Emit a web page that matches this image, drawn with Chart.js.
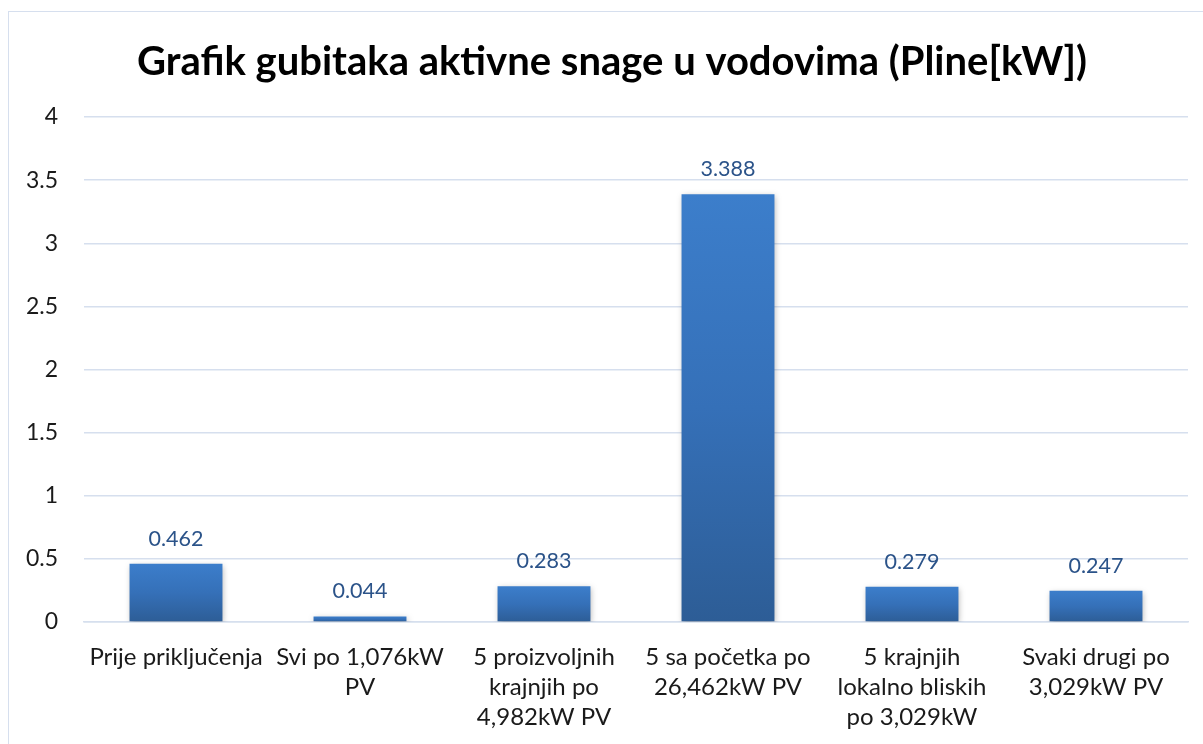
<!DOCTYPE html>
<html>
<head>
<meta charset="utf-8">
<script src="https://cdn.jsdelivr.net/npm/chart.js@4/dist/chart.umd.min.js"></script>
<style>
  html, body { margin: 0; padding: 0; background: #fff; overflow: hidden; }
  #wrap { position: absolute; left: 0; top: 0; width: 1203px; height: 744px; }
  #frame { position: absolute; left: 8px; top: 11px; width: 1210px; height: 760px; border: 1px solid #D6DFEE; box-sizing: border-box; pointer-events: none; }
  canvas { position: absolute; left: 0; top: 0; }
</style>
</head>
<body>
<div id="wrap">
  <canvas id="c" width="1203" height="744"></canvas>
  <div id="frame"></div>
</div>
<script>
const titleText = "Grafik gubitaka aktivne snage u vodovima (Pline[kW])";
const categories = [
  "Prije priključenja",
  ["Svi po 1,076kW", "PV"],
  ["5 proizvoljnih", "krajnjih po", "4,982kW PV"],
  ["5 sa početka po", "26,462kW PV"],
  ["5 krajnjih", "lokalno bliskih", "po 3,029kW"],
  ["Svaki drugi po", "3,029kW PV"]
];
const values = [0.462, 0.044, 0.283, 3.388, 0.279, 0.247];
const valueLabels = ["0.462", "0.044", "0.283", "3.388", "0.279", "0.247"];
const yMin = 0, yMax = 4, yStep = 0.5;

const FONT = "Lato, 'Open Sans', sans-serif";

const titlePlugin = {
  id: 'customTitle',
  afterDraw(chart) {
    const ctx = chart.ctx;
    ctx.save();
    ctx.font = "bold 40px " + FONT;
    ctx.fillStyle = "#000";
    ctx.textAlign = "center";
    ctx.textBaseline = "middle";
    ctx.fillText(titleText, 612, 62);
    ctx.restore();
  }
};

const dataLabelPlugin = {
  id: 'dataLabels',
  afterDatasetsDraw(chart) {
    const ctx = chart.ctx;
    const meta = chart.getDatasetMeta(0);
    ctx.save();
    ctx.font = "21.5px " + FONT;
    ctx.fillStyle = "#2B5389";
    ctx.textAlign = "center";
    ctx.textBaseline = "middle";
    meta.data.forEach((el, i) => {
      ctx.fillText(valueLabels[i], el.x, el.y - 25);
    });
    ctx.restore();
  }
};

const shadowPlugin = {
  id: 'barShadow',
  beforeDatasetsDraw(chart) {
    const ctx = chart.ctx;
    ctx.save();
    ctx.shadowColor = "rgba(0,0,0,0.28)";
    ctx.shadowBlur = 6;
    ctx.shadowOffsetX = 1;
    ctx.shadowOffsetY = 2;
  },
  afterDatasetsDraw(chart) {
    chart.ctx.restore();
  }
};

new Chart(document.getElementById('c'), {
  type: 'bar',
  data: {
    labels: categories,
    datasets: [{
      data: values,
      backgroundColor: (c) => {
        const chart = c.chart;
        const ys = chart.scales && chart.scales.y;
        if (!ys || c.dataIndex === undefined) return "#3A7CC8";
        const top = ys.getPixelForValue(values[c.dataIndex]);
        const base = ys.getPixelForValue(0);
        if (!isFinite(top) || !isFinite(base) || base - top < 1) return "#3A7CC8";
        const g = chart.ctx.createLinearGradient(0, top, 0, base);
        g.addColorStop(0, "#3C7ECB");
        g.addColorStop(0.5, "#3570B8");
        g.addColorStop(1, "#2D5D96");
        return g;
      },
      borderWidth: 0,
      barPercentage: 0.505,
      categoryPercentage: 1.0
    }]
  },
  options: {
    responsive: false,
    animation: false,
    devicePixelRatio: 1,
    layout: { padding: { left: 0, right: 15, top: 117, bottom: 0 } },
    plugins: {
      legend: { display: false },
      tooltip: { enabled: false },
      title: { display: false }
    },
    scales: {
      x: {
        grid: { display: false, drawTicks: false },
        border: { display: true, color: "#D6DFEE", width: 1.5 },
        ticks: {
          color: "#1a1a1a",
          font: { family: FONT, size: 24, lineHeight: 1.25 },
          padding: 20,
          maxRotation: 0,
          autoSkip: false
        },
        afterFit(s) { s.height = 122; }
      },
      y: {
        min: yMin,
        max: yMax,
        grid: { color: "#D6DFEE", lineWidth: 1.5, drawTicks: false },
        border: { display: false },
        ticks: {
          stepSize: yStep,
          color: "#1a1a1a",
          font: { family: FONT, size: 23 },
          padding: 26,
          callback: (v) => String(v)
        },
        afterFit(s) { s.width = 84; }
      }
    }
  },
  plugins: [shadowPlugin, dataLabelPlugin, titlePlugin]
});
</script>
</body>
</html>
